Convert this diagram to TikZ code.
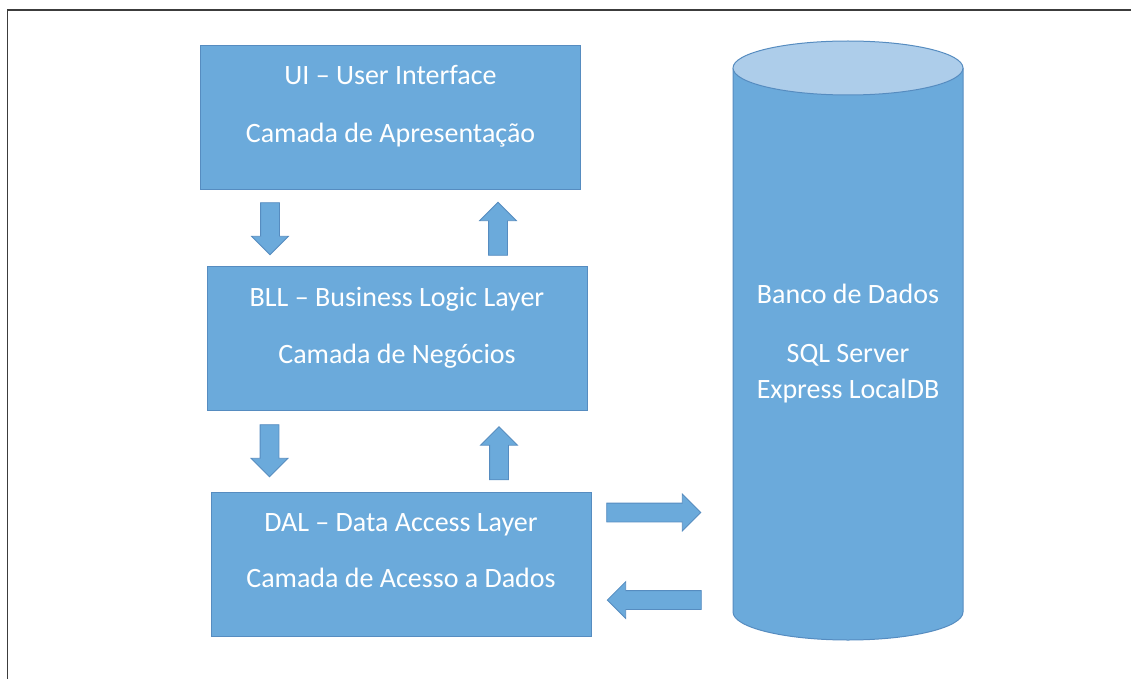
\documentclass[tikz,border=0pt]{standalone}
\usepackage{fontspec}
\setmainfont{Carlito}
\usepackage{tikz}
\usetikzlibrary{positioning,shapes.arrows}
\definecolor{layerblue}{RGB}{107,170,219}
\definecolor{layeredge}{RGB}{86,140,192}
\definecolor{dbtopblue}{RGB}{173,205,234}
\definecolor{framegray}{RGB}{60,60,60}
\tikzset{
  layerbox/.style={draw=layeredge,fill=layerblue,line width=1pt,align=center,
    minimum width=380pt,minimum height=144pt,inner sep=0pt,text=white,
    font=\fontsize{28}{34}\selectfont},
  dbtext/.style={align=center,inner sep=0pt,text=white,font=\fontsize{28}{34}\selectfont},
  blockarrow/.style={single arrow,draw=layeredge,fill=layerblue,line width=0.8pt,
    inner sep=9pt,single arrow head extend=9pt,single arrow tip angle=90},
  downarrow/.style={blockarrow,shape border rotate=270,minimum height=52pt},
  uparrow/.style={blockarrow,shape border rotate=90,minimum height=53pt},
  sidearrow/.style={blockarrow,minimum height=94pt},
  frameline/.style={draw=framegray,line width=1.6pt}
}

\begin{document}
\begin{tikzpicture}[x=1pt,y=-1pt,node distance=76pt]
  \useasboundingbox (0,0) rectangle (1131,679);
  \draw[frameline] (7.5,679) -- (7.5,10) -- (1131,10);

  % camadas
  \node[layerbox] (ui) at (390.5,117.5)
    {UI -- User Interface\\[24pt]Camada de Apresentação\rule[-27pt]{0pt}{27pt}};
  \node[layerbox,below=of ui,xshift=6.5pt] (bll)
    {BLL -- Business Logic Layer\\[23pt]Camada de Negócios\rule[-27pt]{0pt}{27pt}};
  \node[layerbox,below=81pt of bll,xshift=4pt] (dal)
    {DAL -- Data Access Layer\\[22pt]Camada de Acesso a Dados\rule[-27pt]{0pt}{27pt}};

  % banco de dados
  \fill[layerblue] (733,68) -- (733,612) arc[start angle=180,end angle=360,x radius=115pt,y radius=28pt]
    -- (963,68) -- cycle;
  \draw[layeredge,line width=1pt] (733,68) -- (733,612) arc[start angle=180,end angle=360,x radius=115pt,y radius=28pt]
    -- (963,68);
  \filldraw[fill=dbtopblue,draw=layeredge,line width=1pt] (848,68) ellipse[x radius=115pt,y radius=27pt];
  \node[dbtext] (db) at (848,344) {Banco de Dados\\[25pt]SQL Server\\[2pt]Express LocalDB};

  % setas
  \node[downarrow] (uidown) at (270,224) {};
  \node[uparrow] (uiup) at (498,233.5) {};
  \node[downarrow] (blldown) at (269.5,446) {};
  \node[uparrow] (bllup) at (499,458) {};
  \node[sidearrow] (dalout) at (649,512.5) {};
  \node[sidearrow,shape border rotate=180] (dalin) at (659,600) {};
\end{tikzpicture}
\end{document}
